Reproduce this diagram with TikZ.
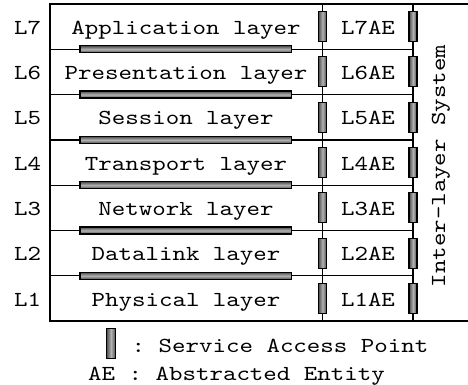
\documentclass[tikz,border=0pt]{standalone}
\usepackage{fontspec}
\setmonofont{lmmono10-regular}[Extension=.otf, FakeStretch=1.2]
\usetikzlibrary{positioning}
\tikzset{
	every node/.style={font=\ttfamily\fontsize{21.4}{26}\selectfont, inner sep=0pt},
	frame/.style={line width=1.3pt},
	sap/.style={draw, line width=1.2pt, left color=black!70, right color=black!70, middle color=black!30},
	hsap/.style={draw, line width=1.2pt, top color=black!70, bottom color=black!70, middle color=black!30}}

\begin{document}
\begin{tikzpicture}[x=1pt, y=-1pt]
		
		\useasboundingbox (0,0) rectangle (468,385);
		
		\draw[frame] (468,4) -- (50,4) -- (50,321) -- (468,321);
		\draw[frame] (322.5,4) -- (322.5,321);
		\draw[frame] (413,4) -- (413,321);
		
		\foreach \i in {1,...,6} {
			\draw[frame] (50,{4+45.3*\i}) -- (413,{4+45.3*\i});
			\draw[hsap] (80,{0.5+45.3*\i}) rectangle (291.7,{7.5+45.3*\i});
		}
		
		\foreach \txt [count=\i from 0, evaluate=\i as \yc using 26.6+45.3*\i, evaluate=\i as \n using int(7-\i)] in {Application layer, Presentation layer, Session layer, Transport layer, Network layer, Datalink layer, Physical layer} {
			\node[anchor=base] (L\n) at (27.5,\yc+7.7) {L\n};
			\node[anchor=base] (layer\n) at (186,\yc+7.7) {\txt};
			\node[anchor=base] (ae\n) at (368,\yc+7.7) {L\n AE};
			\draw[sap] (318.5,\yc-15) rectangle ++(8,30);
			\draw[sap] (409,\yc-15) rectangle ++(8,30);
		}
		
		\node[rotate=90] (ils) at (441,166) {Inter-layer System};
		
		% legend
		\node[sap, minimum width=9pt, minimum height=30pt] (key) at (111,343.5) {};
		\node[anchor=base west] (sapkey) at (131.5,352) {: Service Access Point};
		\node[anchor=base west] (aekey) at (88,380) {AE : Abstracted Entity};
		
\end{tikzpicture}
\end{document}
